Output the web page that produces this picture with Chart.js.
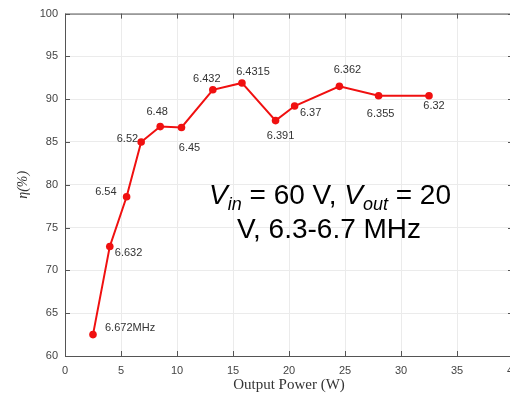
<!DOCTYPE html>
<html>
<head>
<meta charset="utf-8">
<script src="https://cdn.jsdelivr.net/npm/chart.js@4"></script>
<style>
    html, body { margin: 0; padding: 0; background: #fff; overflow: hidden; }
    #wrap { width: 530px; height: 400px; }
</style>
</head>
<body>
<div id="wrap"><canvas id="effChart" width="530" height="400"></canvas></div>
<script>
// 输出功率 (W) 与效率 (%)
const outputPower = [2.5, 4.0, 5.5, 6.8, 8.5, 10.4, 13.2, 15.8, 18.8, 20.5, 24.5, 28.0, 32.5];
const efficiency = [62.5, 72.8, 78.6, 85.0, 86.8, 86.7, 91.1, 91.9, 87.5, 89.2, 91.5, 90.4, 90.4];
// 每个点的开关频率 (MHz)
const freqLabels = ['6.672MHz', '6.632', '6.54', '6.52', '6.48', '6.45', '6.432', '6.4315', '6.391', '6.37', '6.362', '6.355', '6.32'];
const xTicks = [0, 5, 10, 15, 20, 25, 30, 35, 40];
const yTicks = [60, 65, 70, 75, 80, 85, 90, 95, 100];

// 频率标注相对于点的偏移和对齐
const labelPlace = [
    [12, -7, 'left'], [5, 7, 'left'], [-10, -5, 'right'], [-3, -3, 'right'],
    [-3, -15, 'center'], [8, 21, 'center'], [-6, -11, 'center'], [11, -11, 'center'],
    [5, 15, 'center'], [16, 7, 'center'], [8, -16, 'center'], [2, 18, 'center'], [5, 10, 'center']
];

const sansFont = '"Liberation Sans", Arial, sans-serif';
const serifFont = '"Liberation Serif", "DejaVu Serif", serif';

// 边框、内向刻度、频率标注、工作条件文字
const decorPlugin = {
    id: 'decor',
    afterDatasetsDraw(chart) {
        const { ctx, chartArea: a, scales: { x, y } } = chart;
        ctx.save();
        ctx.strokeStyle = '#555';
        ctx.lineWidth = 1;
        ctx.strokeRect(a.left + 0.5, a.top + 0.5, a.right - a.left, a.bottom - a.top);
        ctx.beginPath();
        xTicks.forEach(v => {
            const px = Math.round(x.getPixelForValue(v)) + 0.5;
            ctx.moveTo(px, a.bottom); ctx.lineTo(px, a.bottom - 5);
            ctx.moveTo(px, a.top); ctx.lineTo(px, a.top + 5);
        });
        yTicks.forEach(v => {
            const py = Math.round(y.getPixelForValue(v)) + 0.5;
            ctx.moveTo(a.left, py); ctx.lineTo(a.left + 5, py);
            ctx.moveTo(a.right, py); ctx.lineTo(a.right - 5, py);
        });
        ctx.stroke();

        // 频率标注
        ctx.font = '11px ' + sansFont;
        ctx.fillStyle = '#333';
        ctx.textBaseline = 'middle';
        outputPower.forEach((p, i) => {
            const [dx, dy, align] = labelPlace[i];
            ctx.textAlign = align;
            ctx.fillText(freqLabels[i], x.getPixelForValue(p) + dx, y.getPixelForValue(efficiency[i]) + dy);
        });

        // 工作条件
        const line1 = [
            { t: 'V', f: 'italic 28px', dy: 0 },
            { t: 'in', f: 'italic 18px', dy: 6 },
            { t: ' = 60 V, ', f: '28px', dy: 0 },
            { t: 'V', f: 'italic 28px', dy: 0 },
            { t: 'out', f: 'italic 18px', dy: 6 },
            { t: ' = 20', f: '28px', dy: 0 }
        ];
        ctx.fillStyle = '#000';
        ctx.textAlign = 'left';
        ctx.textBaseline = 'alphabetic';
        let w = 0;
        line1.forEach(s => { ctx.font = s.f + ' ' + sansFont; w += ctx.measureText(s.t).width; });
        let cx = 330 - w / 2;
        line1.forEach(s => {
            ctx.font = s.f + ' ' + sansFont;
            ctx.fillText(s.t, cx, 204 + s.dy);
            cx += ctx.measureText(s.t).width;
        });
        ctx.font = '28px ' + sansFont;
        ctx.textAlign = 'center';
        ctx.fillText('V, 6.3-6.7 MHz', 329, 238);
        ctx.restore();
    }
};

const ctx = document.getElementById('effChart').getContext('2d');
const effChart = new Chart(ctx, {
    type: 'line',
    data: {
        datasets: [{
            data: outputPower.map((p, i) => ({ x: p, y: efficiency[i] })),
            borderColor: '#f01010',
            backgroundColor: '#f01010',
            borderWidth: 2,
            pointRadius: 3.8,
            pointBorderWidth: 0,
            tension: 0
        }]
    },
    options: {
        responsive: false,
        animation: false,
        layout: { padding: { top: 13, right: 17, left: 0, bottom: 0 } },
        plugins: { legend: { display: false }, tooltip: { enabled: false } },
        scales: {
            x: {
                type: 'linear',
                min: 0,
                max: 40,
                afterBuildTicks: s => { s.ticks = xTicks.map(v => ({ value: v })); },
                afterFit: s => { s.height = 44; },
                grid: { color: '#ebebeb', drawTicks: false },
                border: { display: false },
                ticks: { padding: 8, color: '#444', font: { family: sansFont, size: 11 } },
                title: {
                    display: true,
                    text: 'Output Power (W)',
                    color: '#333',
                    font: { family: serifFont, size: 15 },
                    padding: { top: 0, bottom: 6 }
                }
            },
            y: {
                min: 60,
                max: 100,
                afterBuildTicks: s => { s.ticks = yTicks.map(v => ({ value: v })); },
                afterFit: s => { s.width = 65; },
                grid: { color: '#ebebeb', drawTicks: false },
                border: { display: false },
                ticks: { padding: 7, color: '#444', font: { family: sansFont, size: 11 } },
                title: {
                    display: true,
                    text: 'η(%)',
                    color: '#333',
                    font: { family: serifFont, size: 14, style: 'italic' },
                    padding: { top: 15, bottom: 0 }
                }
            }
        }
    },
    plugins: [decorPlugin]
});
</script>
</body>
</html>
